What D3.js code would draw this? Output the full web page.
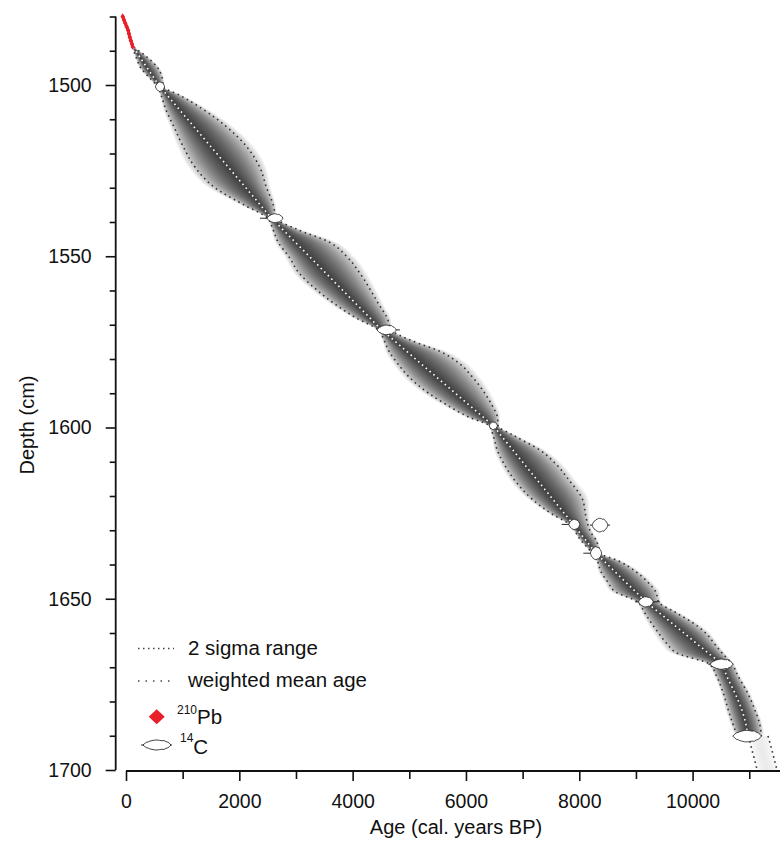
<!DOCTYPE html>
<html>
<head>
<meta charset="utf-8">
<script src="https://cdn.jsdelivr.net/npm/d3@7"></script>
<style>
  body { margin: 0; background: #fff; }
  svg { display: block; }
  text { font-family: "Liberation Sans", Arial, Helvetica, sans-serif; fill: #111; }
</style>
</head>
<body>
<svg id="chart" width="780" height="845"></svg>
<script>
// ---- age-depth model (depth in cm, ages in cal. years BP) ----
const modelDepth = [1489, 1492, 1495, 1498, 1500.5,
  1503, 1507, 1512, 1518, 1524, 1530, 1535, 1538.9,
  1542, 1546, 1550, 1555, 1560, 1564, 1568, 1571.5,
  1574.5, 1578, 1581, 1585, 1590, 1593, 1597, 1599.5,
  1602.4, 1606.7, 1611, 1615.3, 1621.1, 1625.4, 1628.3,
  1630.5, 1633, 1635, 1636.7,
  1639, 1642, 1645, 1648, 1650.9,
  1654, 1657, 1660, 1663, 1666, 1669.1,
  1672.5, 1677.5, 1682.5, 1687, 1690.1];
const modelMean = [128, 250, 373, 496, 600,
  728, 933, 1190, 1498, 1806, 2114, 2370, 2571,
  2756, 2994, 3233, 3531, 3829, 4067, 4306, 4513,
  4724, 4970, 5180, 5461, 5813, 6023, 6305, 6480,
  6622, 6834, 7045, 7256, 7541, 7752, 7894,
  7999, 8118, 8214, 8295,
  8438, 8624, 8811, 8997, 9177,
  9405, 9625, 9846, 10066, 10287, 10514,
  10600, 10745, 10870, 10945, 10970];
const modelLo = [115, 180, 260, 420, 560,
  620, 700, 840, 1010, 1220, 1570, 2080, 2500,
  2590, 2690, 2870, 3060, 3380, 3690, 4060, 4450,
  4554, 4650, 4780, 4981, 5343, 5623, 6055, 6410,
  6482, 6554, 6685, 6856, 7181, 7532, 7830,
  7930, 8030, 8140, 8230,
  8320, 8380, 8500, 8640, 9030,
  9150, 9270, 9400, 9540, 9740, 10300,
  10420, 10540, 10630, 10720, 10790];
const modelHi = [140, 380, 560, 640, 660,
  950, 1350, 1760, 2130, 2360, 2480, 2600, 2650,
  3000, 3600, 3890, 4130, 4320, 4460, 4610, 4680,
  5024, 5570, 5860, 6100, 6333, 6443, 6555, 6570,
  6852, 7314, 7605, 7816, 8060, 8110, 8150,
  8200, 8300, 8340, 8370,
  8700, 8990, 9200, 9350, 9400,
  9700, 10000, 10230, 10380, 10530, 10700,
  10800, 10970, 11100, 11190, 11210];

// extrapolation below the lowest date
const extDepth = [1690.1, 1693, 1696.5, 1700];
const extMean = [11160, 11205, 11260, 11315];
const extLo = [10990, 11030, 11085, 11140];
const extHi = [11330, 11380, 11435, 11490];

// 14C dates: depth, calibrated body extent and tail extent
const dateDepth  = [1500.5, 1538.9, 1571.5, 1599.5, 1628.3, 1628.5, 1636.7, 1650.9, 1669.1, 1690.1];
const dateMin    = [520, 2490, 4430, 6410, 7815, 8225, 8195, 9045, 10310, 10710];
const dateMax    = [680, 2770, 4770, 6555, 8010, 8505, 8395, 9305, 10715, 11215];
const dateTailLo = [520, 2365, 4430, 6410, 7690, 8189, 8071, 8983, 10277, 10710];
const dateTailHi = [680, 2770, 4835, 6555, 8010, 8542, 8395, 9425, 10715, 11215];
const dateHalfH  = [1.4, 1.3, 1.4, 1.1, 1.5, 2.0, 1.9, 1.5, 1.5, 1.7];

// 210Pb dates
const pbDepth = [1480, 1481, 1482, 1483, 1484, 1485, 1486, 1487, 1488, 1488.8];
const pbAge   = [-58, -35, -12, 12, 38, 52, 66, 85, 105, 118];

// axis ticks
const ageMajor = [0, 2000, 4000, 6000, 8000, 10000];
const ageMinor = [1000, 3000, 5000, 7000, 9000, 11000, 12000];
const depthMajor = [1500, 1550, 1600, 1650, 1700];
const depthMinor = [1480, 1490, 1510, 1520, 1530, 1540, 1560, 1570, 1580, 1590,
  1610, 1620, 1630, 1640, 1660, 1670, 1680, 1690];

// outline of the calibrated-distribution glyph (relative position, relative height)
const glyphU = [-1, -0.88, -0.75, -0.62, -0.5, -0.36, -0.2, 0, 0.18, 0.34, 0.5, 0.64, 0.78, 0.9, 1];
const glyphH = [0, 0.3, 0.55, 0.62, 0.8, 0.86, 0.97, 1, 0.93, 0.85, 0.9, 0.66, 0.55, 0.3, 0];

const svg = d3.select('#chart');
const x = d3.scaleLinear().domain([0, 10000]).range([126, 692.6]);
const y = d3.scaleLinear().domain([1500, 1700]).range([85, 770]);

svg.append('defs').append('clipPath').attr('id', 'plotclip')
  .append('rect').attr('x', 116).attr('y', 0).attr('width', 664).attr('height', 770);

const plot = svg.append('g').attr('clip-path', 'url(#plotclip)');

const model = modelDepth.map((d, i) => ({ d, m: modelMean[i], lo: modelLo[i], hi: modelHi[i] }));
const ext = extDepth.map((d, i) => ({ d, m: extMean[i], lo: extLo[i], hi: extHi[i] }));

// grey probability cloud: many thin nested bands around the weighted mean
const bandFactors = d3.range(24).map(k => 0.05 + k * 0.05);
const band = f => d3.area().curve(d3.curveMonotoneY)
  .y(p => y(p.d))
  .x0(p => x(p.m - f * (p.m - p.lo)))
  .x1(p => x(p.m + f * (p.hi - p.m)));

const cloud = plot.append('g');
bandFactors.forEach(f => {
  cloud.append('path').datum(model).attr('d', band(f))
    .attr('fill', '#000').attr('fill-opacity', 0.05);
});
const extCloud = plot.append('g').attr('opacity', 0.1);
bandFactors.forEach(f => {
  extCloud.append('path').datum(ext).attr('d', band(f))
    .attr('fill', '#000').attr('fill-opacity', 0.05);
});

// 2 sigma range
const edge = acc => d3.line().curve(d3.curveMonotoneY).x(p => x(acc(p))).y(p => y(p.d));
[[model, p => p.lo], [model, p => p.hi], [ext, p => p.lo], [ext, p => p.hi]].forEach(([data, acc]) => {
  plot.append('path').datum(data).attr('d', edge(acc))
    .attr('fill', 'none').attr('stroke', '#333').attr('stroke-width', 1.6)
    .attr('stroke-dasharray', '1.6,3.6');
});

// weighted mean age
plot.append('path').datum(model).attr('d', edge(p => p.m))
  .attr('fill', 'none').attr('stroke', '#fff').attr('stroke-width', 1.6)
  .attr('stroke-dasharray', '1.6,3.4');

// calibrated 14C dates
function glyphPath(cx, cy, halfW, halfH) {
  const top = glyphU.map((u, i) => [cx + u * halfW, cy - glyphH[i] * halfH]);
  const bot = glyphU.map((u, i) => [cx + u * halfW, cy + glyphH[i] * halfH]).reverse();
  return d3.line()(top.concat(bot)) + 'Z';
}
const dates = dateDepth.map((d, i) => ({ d, min: dateMin[i], max: dateMax[i], tlo: dateTailLo[i], thi: dateTailHi[i], h: dateHalfH[i] }));
const dg = plot.append('g');
dates.forEach(t => {
  const cy = y(t.d);
  const halfH = y(t.d + t.h) - cy;
  dg.append('line').attr('x1', x(t.tlo)).attr('x2', x(t.thi)).attr('y1', cy).attr('y2', cy)
    .attr('stroke', '#111').attr('stroke-width', 0.9);
  dg.append('path').attr('d', glyphPath((x(t.min) + x(t.max)) / 2, cy, (x(t.max) - x(t.min)) / 2, halfH))
    .attr('fill', '#fff').attr('stroke', '#222').attr('stroke-width', 0.8).attr('stroke-linejoin', 'round');
});

// 210Pb dates
const diamond = (cx, cy, w, h) => `M${cx},${cy - h}L${cx + w},${cy}L${cx},${cy + h}L${cx - w},${cy}Z`;
plot.append('path')
  .datum(pbDepth.map((d, i) => [x(pbAge[i]), y(d)]))
  .attr('d', d3.line()).attr('fill', 'none').attr('stroke', '#e8202a').attr('stroke-width', 3);
pbDepth.forEach((d, i) => {
  plot.append('path').attr('d', diamond(x(pbAge[i]), y(d), 2.2, 3.2)).attr('fill', '#e8202a');
});

// axes
const yAxis = svg.append('g').attr('transform', 'translate(115.7,0)');
yAxis.append('line').attr('x1', 0).attr('x2', 0).attr('y1', y(1480)).attr('y2', y(1700))
  .attr('stroke', '#111').attr('stroke-width', 1.8);
yAxis.append('g').call(d3.axisLeft(y).tickValues(depthMajor).tickSize(10).tickPadding(14).tickFormat(d3.format('d')))
  .call(g => g.select('.domain').remove())
  .call(g => g.selectAll('line').attr('stroke', '#111').attr('stroke-width', 1.6))
  .call(g => g.selectAll('text').attr('font-size', 19.5).attr('fill', '#111')
    .attr('font-family', '"Liberation Sans", Arial, sans-serif'));
yAxis.append('g').call(d3.axisLeft(y).tickValues(depthMinor).tickSize(6).tickFormat(''))
  .call(g => g.select('.domain').remove())
  .call(g => g.selectAll('line').attr('stroke', '#111').attr('stroke-width', 1.6));

const xAxis = svg.append('g').attr('transform', 'translate(0,771)');
xAxis.append('line').attr('x1', x(0)).attr('x2', 780).attr('y1', 0).attr('y2', 0)
  .attr('stroke', '#111').attr('stroke-width', 1.8);
xAxis.append('g').call(d3.axisBottom(x).tickValues(ageMajor).tickSize(10).tickPadding(13).tickFormat(d3.format('d')))
  .call(g => g.select('.domain').remove())
  .call(g => g.selectAll('line').attr('stroke', '#111').attr('stroke-width', 1.6))
  .call(g => g.selectAll('text').attr('font-size', 19.5).attr('fill', '#111')
    .attr('font-family', '"Liberation Sans", Arial, sans-serif'));
xAxis.append('g').call(d3.axisBottom(x).tickValues(ageMinor).tickSize(8).tickFormat(''))
  .call(g => g.select('.domain').remove())
  .call(g => g.selectAll('line').attr('stroke', '#111').attr('stroke-width', 1.6));

svg.append('text').attr('x', 456).attr('y', 834).attr('text-anchor', 'middle')
  .attr('font-size', 20).text('Age (cal. years BP)');
svg.append('text').attr('transform', 'translate(34,425) rotate(-90)').attr('text-anchor', 'middle')
  .attr('font-size', 20).text('Depth (cm)');

// legend
const lg = svg.append('g');
lg.append('line').attr('x1', 138).attr('x2', 174).attr('y1', 648.5).attr('y2', 648.5)
  .attr('stroke', '#444').attr('stroke-width', 1.4).attr('stroke-dasharray', '1.5,3.5');
lg.append('text').attr('x', 188).attr('y', 655).attr('font-size', 20.5).text('2 sigma range');
lg.append('line').attr('x1', 138).attr('x2', 174).attr('y1', 681).attr('y2', 681)
  .attr('stroke', '#444').attr('stroke-width', 1.4).attr('stroke-dasharray', '1.5,6');
lg.append('text').attr('x', 188).attr('y', 687).attr('font-size', 20.5).text('weighted mean age');
lg.append('path').attr('d', diamond(156.7, 716.7, 8, 7.5)).attr('fill', '#e8202a');
const pbText = lg.append('text').attr('x', 177).attr('y', 723.5).attr('font-size', 20.5);
pbText.append('tspan').attr('font-size', 12).attr('dy', -10).text('210');
pbText.append('tspan').attr('dy', 10).text('Pb');
lg.append('line').attr('x1', 141).attr('x2', 172).attr('y1', 745).attr('y2', 745)
  .attr('stroke', '#111').attr('stroke-width', 0.9);
lg.append('path').attr('d', glyphPath(157, 745, 14, 5))
  .attr('fill', '#fff').attr('stroke', '#111').attr('stroke-width', 0.8).attr('stroke-linejoin', 'round');
const cText = lg.append('text').attr('x', 180).attr('y', 754).attr('font-size', 20.5);
cText.append('tspan').attr('font-size', 12).attr('dy', -12).text('14');
cText.append('tspan').attr('dy', 12).text('C');
</script>
</body>
</html>
